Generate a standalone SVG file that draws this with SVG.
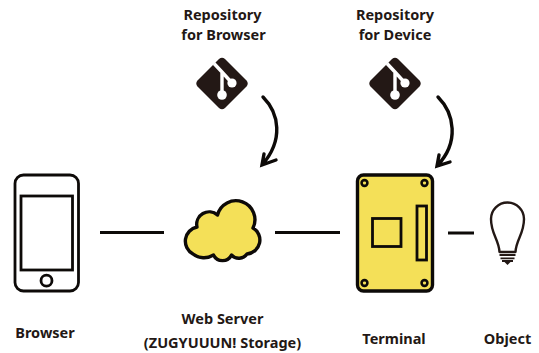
<svg xmlns="http://www.w3.org/2000/svg" width="539" height="353" viewBox="0 0 539 353">
<style>
text{font-family:"Noto Sans","Noto Sans CJK JP",sans-serif;font-weight:700;font-size:14.500px;fill:#231815;text-anchor:middle}
.k{fill:none;stroke:#0d0a08;stroke-width:3}
.y{fill:#f4e058;stroke:#0d0a08;stroke-width:3.400;stroke-linejoin:round}
.a{fill:none;stroke:#0d0a08;stroke-width:3.400;stroke-linecap:round;stroke-linejoin:miter}
</style>
<defs>
<g id="git">
<path d="M-24.500,-3 L-3,-24.500 Q0,-27 3,-24.500 L24.500,-3 Q27,0 24.500,3 L3,24.500 Q0,27 -3,24.500 L-24.500,3 Q-27,0 -24.500,-3 Z" fill="#231815"/>
<path d="M-8,-20 L0,-11.500 L10,-0.500 M0,-11.500 V11.500" fill="none" stroke="#fff" stroke-width="3.400"/>
<circle cx="10" cy="-0.500" r="4.600" fill="#fff"/>
<circle cx="0" cy="11.500" r="4.800" fill="#fff"/>
</g>
<circle id="hole" r="2.900" fill="none" stroke="#0d0a08" stroke-width="2.600"/>
</defs>

<g id="connectors">
<path class="k" d="M100,232.500H164M275,232.500H340M448,233H474"/>
<path class="a" d="M263,97C279,113 284,140 262,165M264,154L262,165L276,160"/>
<path class="a" d="M438,97C454,113 460,142 437,166M439,155L437,166L450,162"/>
</g>

<g id="repo-browser">
<use href="#git" x="222" y="83.500"/>
<text x="222.500" y="20">Repository</text>
<text x="223.500" y="40">for Browser</text>
</g>
<g id="repo-device">
<use href="#git" x="395" y="83.500"/>
<text x="395" y="20">Repository</text>
<text x="395" y="40">for Device</text>
</g>
<g id="browser">
<rect x="15" y="175" width="63.500" height="116" rx="8.500" fill="#fff" stroke="#0d0a08" stroke-width="2.800"/>
<rect x="21" y="196" width="51.500" height="74" fill="none" stroke="#0d0a08" stroke-width="2.800"/>
<circle cx="46.500" cy="280.700" r="5.500" fill="none" stroke="#0d0a08" stroke-width="2.800"/>
<text x="45" y="338">Browser</text>
</g>
<g id="web-server">
<path class="y" d="M193,254A14.500,14.500 0 0 1 197,227A12.500,12.500 0 0 1 217.500,215A19,19 0 1 1 253,228A14,14 0 0 1 247,254A10,10 0 0 1 231.500,255A10,10 0 0 1 213.500,255A18,18 0 0 1 193,254Z"/>
<text x="222.500" y="324">Web Server</text>
<text x="222.500" y="348">(ZUGYUUUN! Storage)</text>
</g>
<g id="terminal">
<rect x="357.500" y="175" width="75" height="116" rx="6" class="y"/>
<use href="#hole" x="364.500" y="183"/>
<use href="#hole" x="424.500" y="183"/>
<use href="#hole" x="364.500" y="283"/>
<use href="#hole" x="424.500" y="283"/>
<rect x="372.500" y="218.500" width="28.500" height="28" fill="none" stroke="#0d0a08" stroke-width="2.800"/>
<rect x="417" y="206" width="9.500" height="54" fill="none" stroke="#0d0a08" stroke-width="2.800"/>
<text x="394" y="343.500">Terminal</text>
</g>
<g id="object">
<path d="M499.500,252C499,240 491,234 491,219A16.500,16.500 0 0 1 524,219C524,234 516,240 515.500,252Z" fill="#fff" stroke="#231815" stroke-width="2.400" stroke-linejoin="round"/>
<path d="M499.500,255H515.500M500.500,258.300H514.500M502,261H513" stroke="#231815" stroke-width="1.800" fill="none"/>
<path d="M504.500,262H510.500L507.500,265Z" fill="#231815"/>
<text x="507.500" y="343.500">Object</text>
</g>
</svg>
